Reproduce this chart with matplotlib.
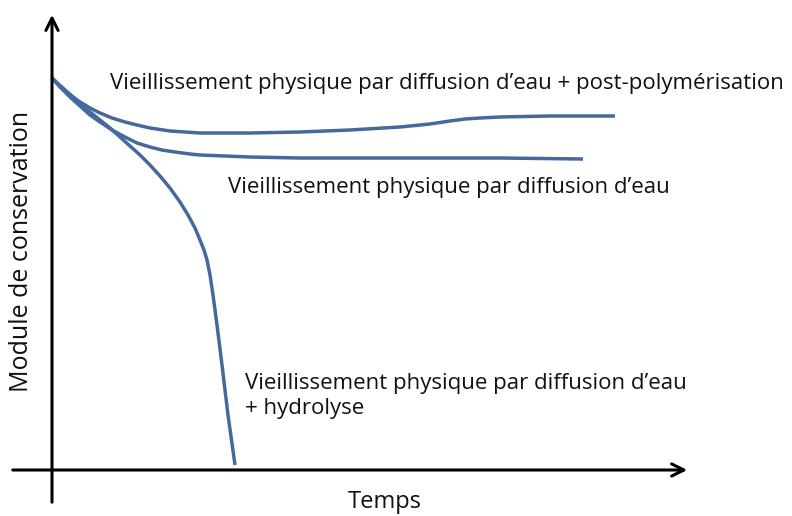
import matplotlib.pyplot as plt

# points (pixel-like units, y downward)
x_post = [52, 60, 70, 80, 90, 100, 112, 125, 137, 150, 170, 200, 250, 300,
          350, 400, 430, 450, 465, 480, 500, 550, 615]
y_post = [78, 86, 95, 102, 108, 113, 118, 122, 125, 128, 131, 133, 133, 132,
          130, 127, 124, 121, 119, 118, 117, 116, 116]

x_eau = [52, 60, 70, 80, 90, 100, 112, 125, 137, 150, 162, 175, 190, 200,
         225, 250, 300, 400, 500, 583]
y_eau = [78, 87, 97, 106, 115, 122, 130, 137, 143, 147, 150, 152, 154, 155,
         156, 157, 158, 158, 158, 159]

x_hydro = [52, 65, 80, 90, 100, 110, 120, 130, 140, 150, 160, 170, 180, 188,
           195, 200, 204, 207, 210, 213, 217, 222, 228, 235]
y_hydro = [78, 90, 103, 112, 120, 128, 137, 146, 155, 165, 176, 188, 202, 215,
           228, 240, 250, 260, 275, 295, 325, 365, 415, 465]

lbl_post = "Vieillissement physique par diffusion d\u2019eau + post-polymérisation"
lbl_eau = "Vieillissement physique par diffusion d\u2019eau"
lbl_hydro = "Vieillissement physique par diffusion d\u2019eau\n+ hydrolyse"

plt.rcParams['font.family'] = ['Open Sans', 'DejaVu Sans']

fig = plt.figure(figsize=(7.92, 5.16), dpi=100)
ax = fig.add_axes([0, 0, 1, 1])
ax.set_xlim(0, 792)
ax.set_ylim(516, 0)
ax.axis('off')

col = '#45699c'
for xs, ys in [(x_post, y_post), (x_eau, y_eau), (x_hydro, y_hydro)]:
    ax.plot(xs, ys, color=col, lw=2.5, solid_capstyle='butt', solid_joinstyle='round')

# axes arrows
arw = dict(arrowstyle='->', lw=2.2, color='black', mutation_scale=22)
ax.annotate('', xy=(52, 12), xytext=(52, 505), arrowprops=arw)
ax.annotate('', xy=(690, 470), xytext=(10, 470), arrowprops=arw)

fs = 16
ax.text(110, 83, lbl_post, fontsize=fs, va='center', ha='left', color='#111111')
ax.text(228, 187, lbl_eau, fontsize=fs, va='center', ha='left', color='#111111')
ax.text(245, 396, lbl_hydro, fontsize=fs, va='center', ha='left',
        color='#111111', linespacing=1.3)
ax.text(385, 502, "Temps", fontsize=17, va='center', ha='center', color='#111111')
ax.text(22, 251, "Module de conservation", fontsize=18, va='center', ha='center',
        rotation=90, color='#111111')

fig.savefig('out.png', dpi=100)
